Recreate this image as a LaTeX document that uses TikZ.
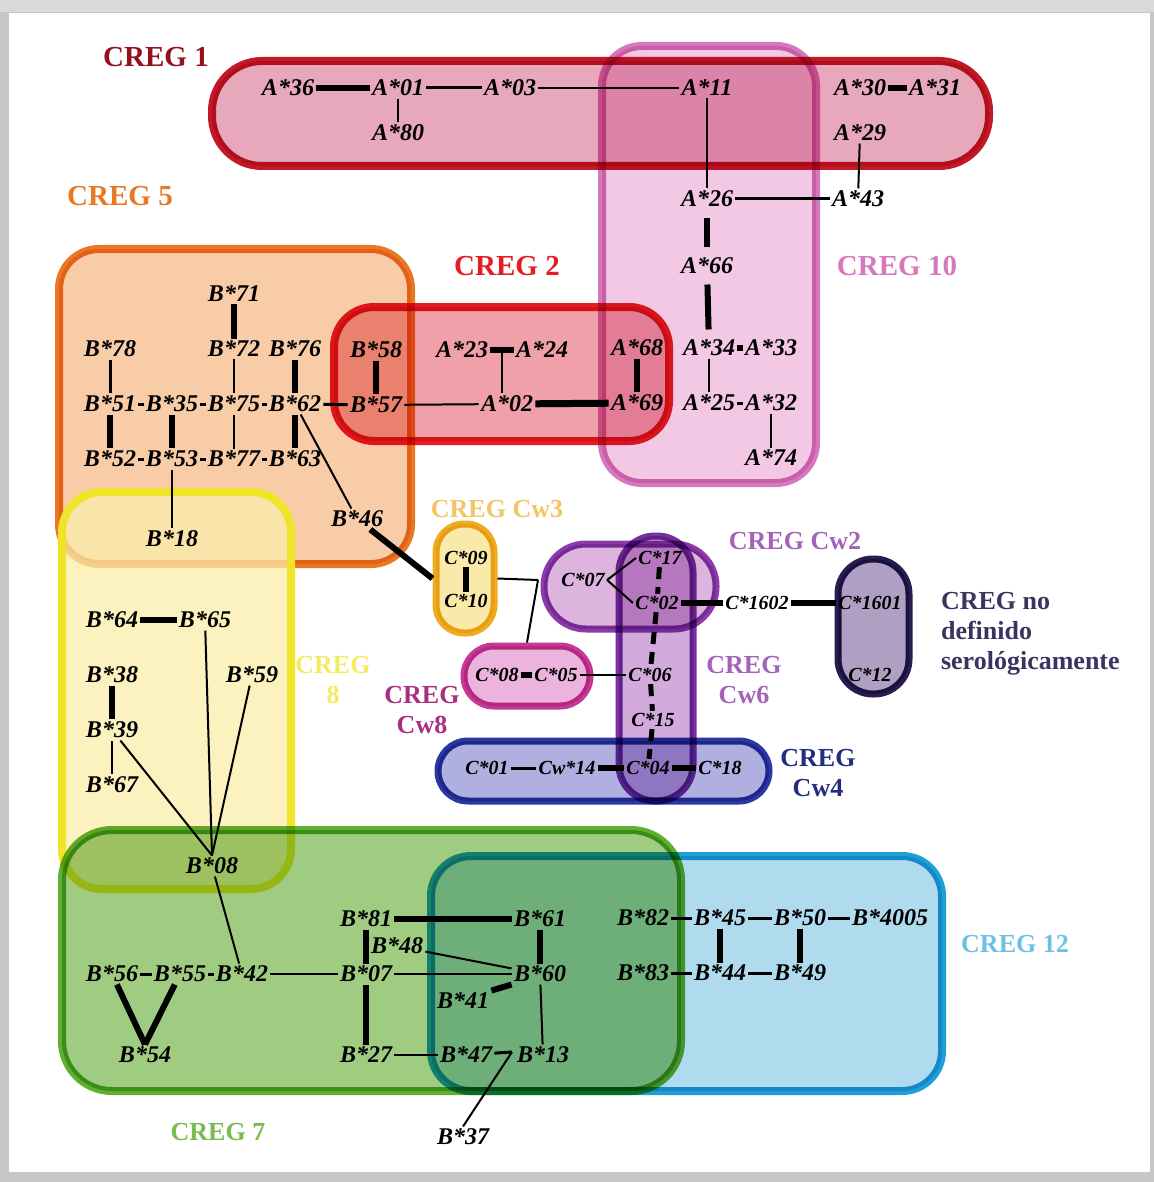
\documentclass[tikz,border=0pt]{standalone}
\usepackage{fontspec}
\setmainfont{Liberation Serif}
\usepackage{tikz}
\usetikzlibrary{positioning}

\definecolor{c1d}{RGB}{196,24,40}   \definecolor{c1f}{RGB}{232,168,188}
\definecolor{c10d}{RGB}{214,120,190}\definecolor{c10f}{RGB}{242,200,228}
\definecolor{c5d}{RGB}{232,120,36}  \definecolor{c5f}{RGB}{249,204,168}
\definecolor{c2d}{RGB}{228,28,36}   \definecolor{c2f}{RGB}{240,160,168}
\definecolor{c8d}{RGB}{240,228,40}  \definecolor{c8f}{RGB}{250,238,170}
\definecolor{c7d}{RGB}{96,176,48}   \definecolor{c7f}{RGB}{160,204,130}
\definecolor{c12d}{RGB}{30,160,215} \definecolor{c12f}{RGB}{176,218,238}
\definecolor{cw3d}{RGB}{238,172,32} \definecolor{cw3f}{RGB}{250,234,170}
\definecolor{cw2d}{RGB}{140,60,170} \definecolor{cw2f}{RGB}{220,180,222}
\definecolor{cw6d}{RGB}{120,48,160} \definecolor{cw6f}{RGB}{210,170,220}
\definecolor{cw8d}{RGB}{196,56,150} \definecolor{cw8f}{RGB}{236,180,220}
\definecolor{cw4d}{RGB}{44,56,160}  \definecolor{cw4f}{RGB}{176,176,224}
\definecolor{ndd}{RGB}{40,28,80}    \definecolor{ndf}{RGB}{175,160,195}

\newcommand{\hla}{\bfseries\itshape\fontsize{12}{12}\selectfont}
\newcommand{\hlc}{\bfseries\itshape\fontsize{10}{10}\selectfont}
\newcommand{\lblbig}{\bfseries\fontsize{14.5}{15}\selectfont}
\newcommand{\lblsmall}{\bfseries\fontsize{13}{15}\selectfont}

\begin{document}
\begin{tikzpicture}[x=0.5pt,y=-0.5pt,node distance=27.5pt,on grid]
\tikzstyle{al} = [inner sep=1pt,font=\hla]
\tikzstyle{cl} = [inner sep=1pt,font=\hlc]
\tikzstyle{grp} = [draw,inner sep=0pt,line width=4pt,rounded corners=20pt]
\tikzstyle{sgrp} = [draw,inner sep=0pt,line width=3.5pt]
\tikzstyle{lbig} = [font=\lblbig,align=center]
\tikzstyle{lsmall} = [font=\lblsmall,align=center]
\tikzset{l1/.style={line width=1pt},l2/.style={line width=1.5pt},l3/.style={line width=3pt},
  dl/.style={line width=2.5pt,dash pattern=on 6pt off 4pt}}

\useasboundingbox (0,0) rectangle (1154,1182);
\fill[gray!45] (0,0) rectangle (1154,1182);
\fill[gray!30] (0,0) rectangle (1154,12);
\fill[white] (9,13) rectangle (1150,1172);

% regions
\begin{scope}[blend mode=multiply]
\node[grp,draw=c1d,fill=c1f,minimum width=388.5pt,minimum height=52.5pt,rounded corners=25pt] (creg1) at (600.5,113.5) {};
\node[grp,draw=c10d,fill=c10f,minimum width=107pt,minimum height=218.5pt] (creg10) at (709,264.5) {};
\node[grp,draw=c5d,fill=c5f,minimum width=176pt,minimum height=157.5pt] (creg5) at (235,406.5) {};
\node[grp,draw=c2d,fill=c2f,minimum width=167.5pt,minimum height=67pt] (creg2) at (501.5,374) {};
\end{scope}
\node[grp,draw=c8d,fill=c8f,fill opacity=.75,minimum width=114.5pt,minimum height=198.5pt] (creg8) at (176.5,690.5) {};
\begin{scope}[blend mode=multiply]
\node[grp,draw=c7d,fill=c7f,minimum width=309.5pt,minimum height=130.5pt,rounded corners=25pt] (creg7) at (371.5,960.5) {};
\node[grp,draw=c12d,fill=c12f,minimum width=255.5pt,minimum height=117.5pt] (creg12) at (686.5,973.5) {};
\node[sgrp,draw=cw3d,fill=cw3f,minimum width=29pt,minimum height=54.5pt,rounded corners=14pt] (cw3) at (465,578.5) {};
\node[sgrp,draw=cw8d,fill=cw8f,minimum width=63pt,minimum height=30pt,rounded corners=15pt] (cw8) at (527,676) {};
\node[sgrp,draw=cw2d,fill=cw2f,minimum width=86pt,minimum height=42.5pt,rounded corners=21pt] (cw2) at (630,586.5) {};
\node[sgrp,draw=cw4d,fill=cw4f,minimum width=165.5pt,minimum height=30pt,rounded corners=15pt] (cw4) at (603.5,771) {};
\node[sgrp,draw=cw6d,fill=cw6f,minimum width=37pt,minimum height=132.5pt,rounded corners=18pt] (cw6) at (656,668.5) {};
\node[sgrp,draw=ndd,fill=ndf,minimum width=35.5pt,minimum height=67.5pt,rounded corners=17.5pt] (nodef) at (873.5,626.5) {};
\end{scope}

% region labels
\node[lbig,text=c1d!75!black] (lbl1) at (156,57) {CREG 1};
\node[lbig,text=c5d] (lbl5) at (120,196) {CREG 5};
\node[lbig,text=c2d] (lbl2) at (507,266) {CREG 2};
\node[lbig,text=c10d] (lbl10) at (897,266) {CREG 10};
\node[lsmall,text=cw3d!70!white] (lblcw3) at (497,509) {CREG Cw3};
\node[lsmall,text=cw2d!80!white] (lblcw2) at (795,541) {CREG Cw2};
\node[lsmall,text=cw2d!80!white] (lblcw6) at (744,680) {CREG\\Cw6};
\node[lsmall,text=c8d!75!white] (lbl8) at (333,680) {CREG\\8};
\node[lsmall,text=cw8d!85!black] (lblcw8) at (422,710) {CREG\\Cw8};
\node[lsmall,text=cw4d!80!black] (lblcw4) at (818,773) {CREG\\Cw4};
\node[lsmall,text=ndd!90!white,align=left,anchor=west] (lblnd) at (934,634) {CREG no\\definido\\serológicamente};
\node[lsmall,text=c12d!65!white] (lbl12) at (1015,944) {CREG 12};
\node[lsmall,text=c7d!85!white] (lbl7) at (218,1132) {CREG 7};

% A alleles
\node[al] (A36) at (288,88) {A*36};
\node[al] (A01) at (398,88) {A*01};
\node[al] (A80) [below=22.5pt of A01] {A*80};
\node[al] (A03) at (510,88) {A*03};
\node[al] (A11) at (707,88) {A*11};
\node[al] (A30) at (860,88) {A*30};
\node[al] (A31) at (935,88) {A*31};
\node[al] (A29) [below=22.5pt of A30] {A*29};
\node[al] (A26) at (707,199) {A*26};
\node[al] (A43) at (858,199) {A*43};
\node[al] (A66) at (707,266) {A*66};
\node[al] (A34) at (709,348) {A*34};
\node[al] (A33) at (771,348) {A*33};
\node[al] (A25) [below=of A34] {A*25};
\node[al] (A32) [below=of A33] {A*32};
\node[al] (A74) [below=of A32] {A*74};
\node[al] (A68) at (637,348) {A*68};
\node[al] (A69) [below=of A68] {A*69};
\node[al] (A23) at (462,350) {A*23};
\node[al] (A24) at (542,350) {A*24};
\node[al] (A02) at (507,404) {A*02};

% B alleles, CREG 5 / 2
\node[al] (B58) at (376,350) {B*58};
\node[al] (B57) [below=of B58] {B*57};
\node[al] (B51) at (110,404) {B*51};
\node[al] (B35) [right=31pt of B51] {B*35};
\node[al] (B75) [right=31pt of B35] {B*75};
\node[al] (B62) [right=30.5pt of B75] {B*62};
\node[al] (B78) [above=of B51] {B*78};
\node[al] (B72) [above=of B75] {B*72};
\node[al] (B71) [above=of B72] {B*71};
\node[al] (B76) [above=of B62] {B*76};
\node[al] (B52) [below=of B51] {B*52};
\node[al] (B53) [below=of B35] {B*53};
\node[al] (B77) [below=of B75] {B*77};
\node[al] (B63) [below=of B62] {B*63};
\node[al] (B18) [below=40pt of B53] {B*18};
\node[al] (B46) at (357,519) {B*46};

% CREG 8
\node[al] (B64) at (112,620) {B*64};
\node[al] (B65) at (205,620) {B*65};
\node[al] (B38) [below=of B64] {B*38};
\node[al] (B59) at (252,675) {B*59};
\node[al] (B39) [below=of B38] {B*39};
\node[al] (B67) [below=of B39] {B*67};
\node[al] (B08) at (212,866) {B*08};

% CREG 7
\node[al] (B56) at (112,974) {B*56};
\node[al] (B55) at (180,974) {B*55};
\node[al] (B42) at (242,974) {B*42};
\node[al] (B54) at (145,1055) {B*54};
\node[al] (B07) at (366,974) {B*07};
\node[al] (B81) [above=of B07] {B*81};
\node[al] (B27) [below=40.5pt of B07] {B*27};
\node[al] (B48) at (397,946) {B*48};
\node[al] (B60) at (540,974) {B*60};
\node[al] (B61) [above=of B60] {B*61};
\node[al] (B41) at (463,1001) {B*41};
\node[al] (B47) at (466,1055) {B*47};
\node[al] (B13) at (543,1055) {B*13};
\node[al] (B37) at (463,1137) {B*37};

% CREG 12
\node[al] (B82) at (643,918) {B*82};
\node[al] (B45) at (720,918) {B*45};
\node[al] (B50) at (800,918) {B*50};
\node[al] (B4005) at (890,918) {B*4005};
\node[al] (B83) [below=of B82] {B*83};
\node[al] (B44) [below=of B45] {B*44};
\node[al] (B49) [below=of B50] {B*49};

% C alleles
\node[cl] (C09) at (466,558) {C*09};
\node[cl] (C10) at (466,601) {C*10};
\node[cl] (C07) at (583,580) {C*07};
\node[cl] (C17) at (660,558) {C*17};
\node[cl] (C02) at (657,603) {C*02};
\node[cl] (C1602) at (757,603) {C*1602};
\node[cl] (C1601) at (870,603) {C*1601};
\node[cl] (C12) at (870,675) {C*12};
\node[cl] (C08) at (497,675) {C*08};
\node[cl] (C05) at (556,675) {C*05};
\node[cl] (C06) at (650,675) {C*06};
\node[cl] (C15) at (653,720) {C*15};
\node[cl] (C01) at (487,768) {C*01};
\node[cl] (Cw14) at (567,768) {Cw*14};
\node[cl] (C04) at (648,768) {C*04};
\node[cl] (C18) at (720,768) {C*18};

\coordinate (j) at (538,580);
\coordinate (k) at (512,1052);

% links A
\draw[l3] (A36) -- (A01);
\draw[l2] (A01) -- (A03);
\draw[l1] (A03) -- (A11);
\draw[l1] (A01) -- (A80);
\draw[l1] (A11) -- (A26);
\draw[l3] (A30) -- (A31);
\draw[l1] (A29) -- (A43);
\draw[l2] (A26) -- (A43);
\draw[l3,shorten <=4pt,shorten >=4pt] (A26) -- (A66);
\draw[l3,shorten <=4pt,shorten >=4pt] (A66) -- (A34);
\draw[l3] (A34) -- (A33);
\draw[l1] (A34) -- (A25);
\draw[l2] (A25) -- (A32);
\draw[l1] (A32) -- (A74);
\draw[l3] (A68) -- (A69);
\draw[line width=3.5pt] (A02) -- (A69);
\draw[l1] (B57) -- (A02);
\draw[l3] (A23) -- coordinate[pos=.5] (t) (A24);
\draw[l1] (t) -- (t |- A02.north);
\draw[l3] (B58) -- (B57);
\draw[l2] (B62) -- (B57);

% links CREG 5
\draw[l3] (B71) -- (B72);
\draw[l2] (B78) -- (B51);
\draw[l1] (B72) -- (B75);
\draw[l3] (B76) -- (B62);
\draw[l2] (B51) -- (B35);
\draw[l2] (B35) -- (B75);
\draw[l2] (B75) -- (B62);
\draw[l3] (B51) -- (B52);
\draw[l3] (B35) -- (B53);
\draw[l1] (B75) -- (B77);
\draw[l3] (B62) -- (B63);
\draw[l2] (B52) -- (B53);
\draw[l2] (B53) -- (B77);
\draw[l2] (B77) -- (B63);
\draw[l1] (B53) -- (B18);
\draw[l1] (B62) -- (B46);
\draw[l3] (B46) -- (cw3.west);

% links CREG 8
\draw[l3] (B64) -- (B65);
\draw[l3] (B38) -- (B39);
\draw[l1] (B39) -- (B67);
\draw[l1] (B65) -- (B08.north);
\draw[l1] (B59) -- (B08.north);
\draw[l1] (B39) -- (B08.north);
\draw[l1] (B08) -- (B42);

% links CREG 7
\draw[l2] (B56) -- (B55);
\draw[l2] (B55) -- (B42);
\draw[l1] (B42) -- (B07);
\draw[l3] (B56) -- (B54.north);
\draw[l3] (B55) -- (B54.north);
\draw[l3] (B81) -- (B61);
\draw[l3] (B81) -- (B07);
\draw[l3] (B07) -- (B27);
\draw[l1] (B48) -- (B60);
\draw[l1] (B07) -- (B60);
\draw[l3] (B41.north east) -- (B60.south west);
\draw[l3] (B61) -- (B60);
\draw[l1] (B60) -- (B13);
\draw[l1] (B27) -- (B47);
\draw[l2] (B47) -- (k);
\draw[l1] (k) -- (B37.north);

% links CREG 12
\draw[l2] (B82) -- (B45);
\draw[l2] (B45) -- (B50);
\draw[l2] (B50) -- (B4005);
\draw[l3] (B45) -- (B44);
\draw[l3] (B50) -- (B49);
\draw[l2] (B83) -- (B44);
\draw[l2] (B44) -- (B49);

% links C
\draw[l3] (C09) -- (C10);
\draw[l1] (cw3.east) -- (j);
\draw[l1] (j) -- (cw8.north);
\draw[l1] (C07.east) -- (C17.west);
\draw[l1] (C07.east) -- (C02.west);
\draw[dl] (C17) -- (C02);
\draw[dl] (C02) -- (C06);
\draw[dl] (C06) -- (C15);
\draw[dl] (C15) -- (C04);
\draw[l3] (C02) -- (C1602);
\draw[l3] (C1602) -- (C1601);
\draw[l3] (C08) -- (C05);
\draw[l1] (C05) -- (C06);
\draw[l2] (C01) -- (Cw14);
\draw[l3] (Cw14) -- (C04);
\draw[l3] (C04) -- (C18);
\end{tikzpicture}
\end{document}
